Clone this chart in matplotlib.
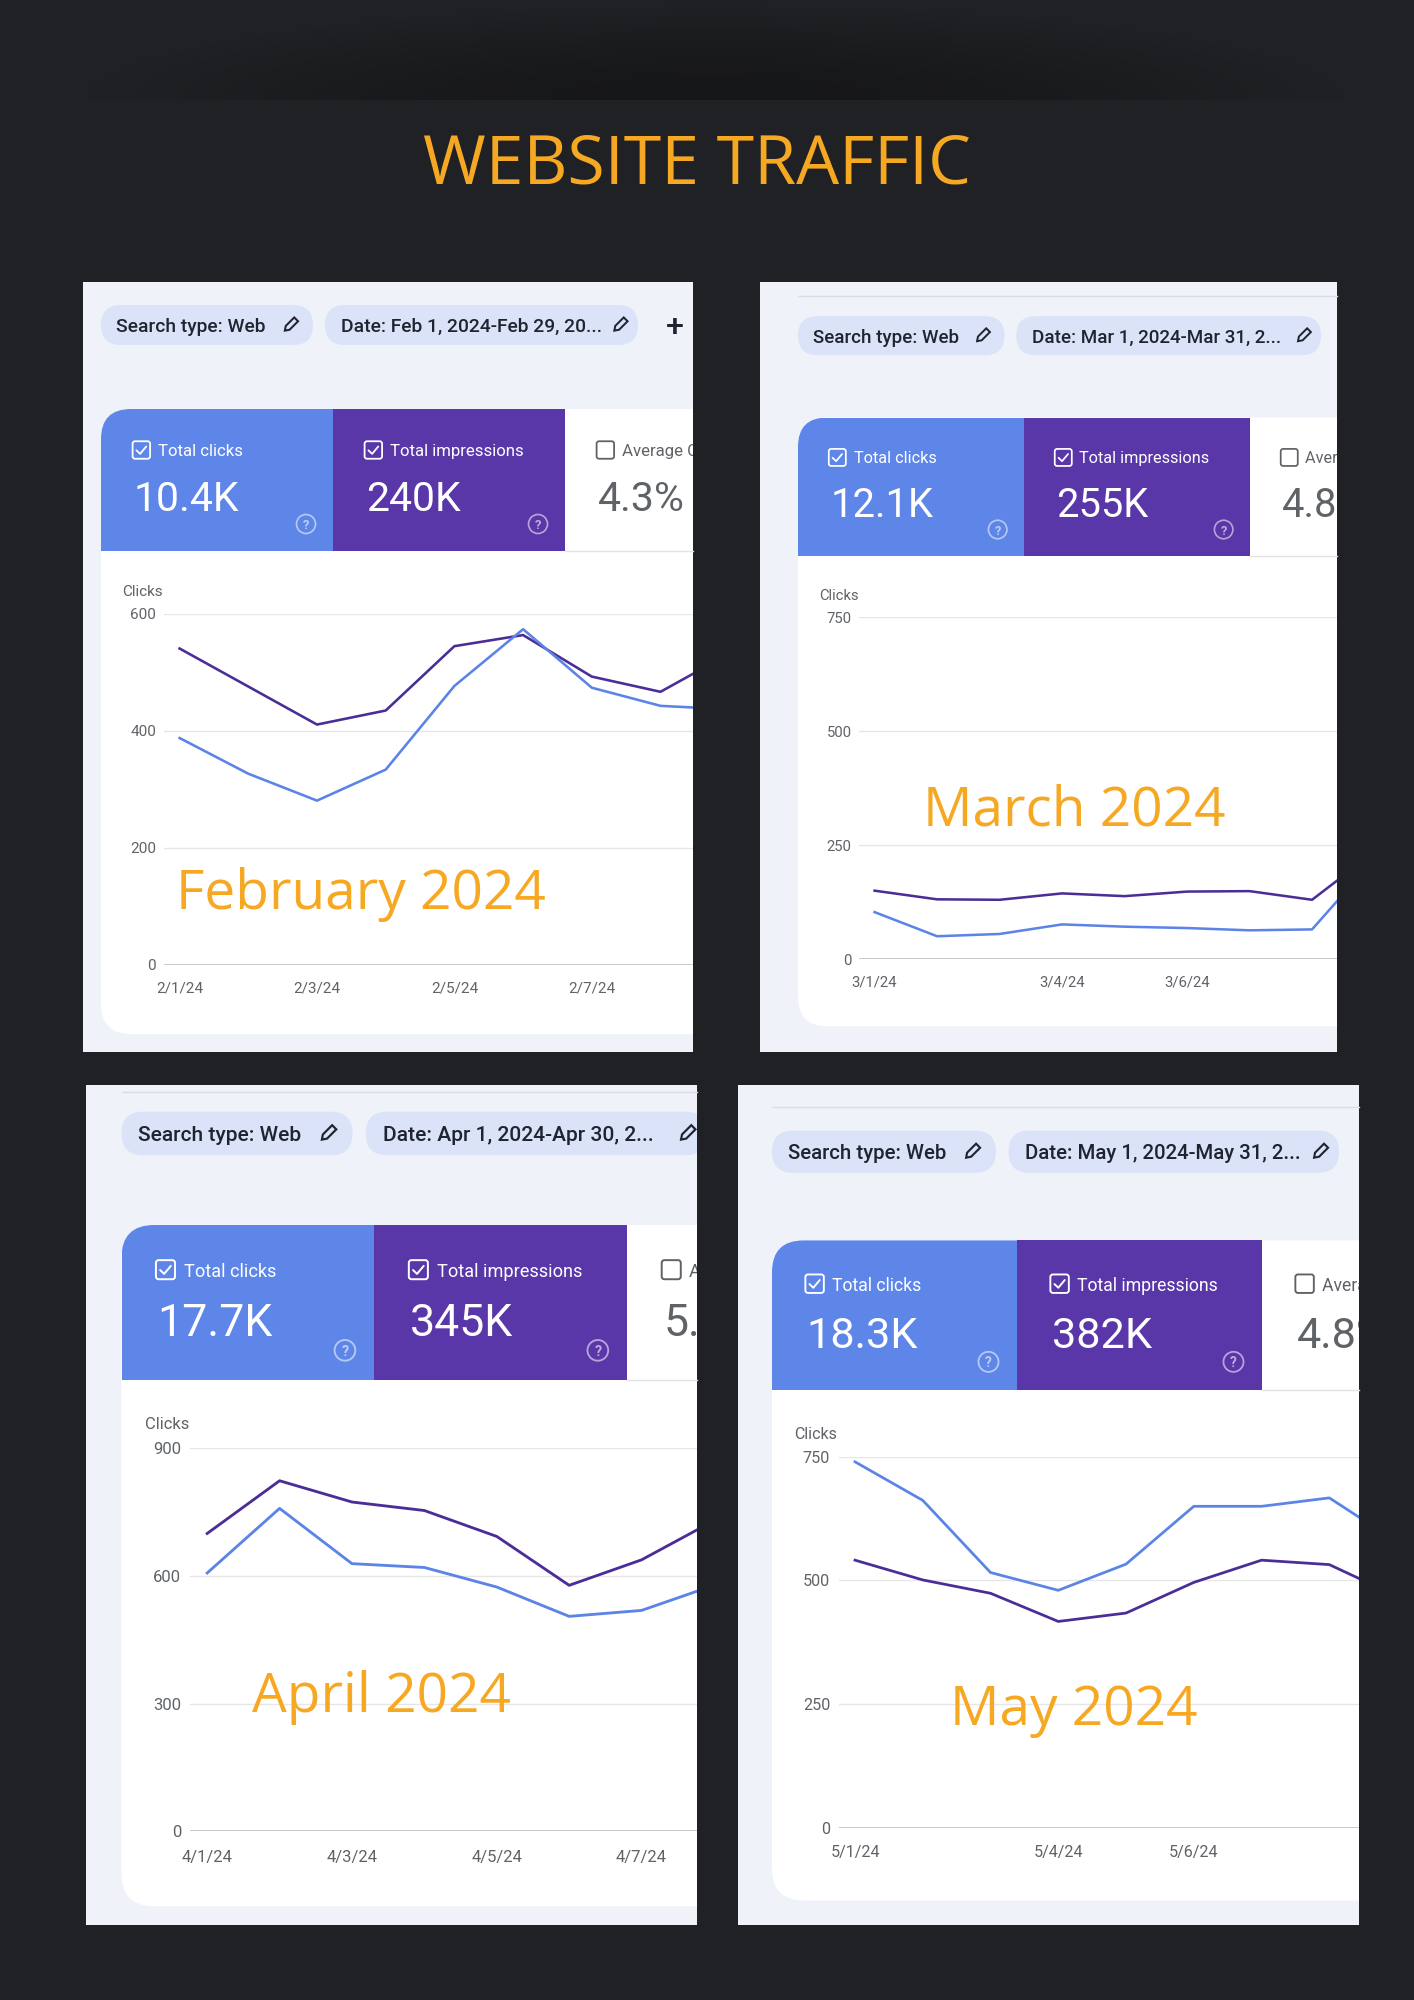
import numpy as np
import matplotlib.pyplot as plt
from matplotlib.patches import FancyBboxPatch, Rectangle, Circle, Polygon

W, H, DPI = 1414, 2000, 100

# ---- data (clicks axis units) ----
feb_days = [1, 2, 3, 4, 5, 6, 7, 8, 9]
feb_clicks = [388, 327, 281, 334, 477, 574, 474, 443, 437]
feb_impr = [541, 476, 411, 435, 545, 564, 493, 467, 532]
feb_yticks = [0, 200, 400, 600]
feb_xticks = [1, 3, 5, 7]
feb_xlabels = ["2/1/24", "2/3/24", "2/5/24", "2/7/24"]
feb_totals = ["10.4K", "240K", "4.3%"]

mar_days = [1, 2, 3, 4, 5, 6, 7, 8, 9]
mar_clicks = [103, 50, 55, 76, 71, 68, 63, 65, 220]
mar_impr = [150, 131, 130, 144, 138, 148, 149, 130, 235]
mar_yticks = [0, 250, 500, 750]
mar_xticks = [1, 4, 6]
mar_xlabels = ["3/1/24", "3/4/24", "3/6/24"]
mar_totals = ["12.1K", "255K", "4.8%"]

apr_days = [1, 2, 3, 4, 5, 6, 7, 8]
apr_clicks = [607, 759, 629, 620, 574, 505, 519, 578]
apr_impr = [700, 824, 774, 754, 693, 578, 638, 730]
apr_yticks = [0, 300, 600, 900]
apr_xticks = [1, 3, 5, 7]
apr_xlabels = ["4/1/24", "4/3/24", "4/5/24", "4/7/24"]
apr_totals = ["17.7K", "345K", "5.1%"]

may_days = [1, 2, 3, 4, 5, 6, 7, 8, 9]
may_clicks = [740, 662, 516, 480, 533, 650, 650, 667, 578]
may_impr = [541, 501, 474, 417, 434, 496, 541, 532, 468]
may_yticks = [0, 250, 500, 750]
may_xticks = [1, 4, 6]
may_xlabels = ["5/1/24", "5/4/24", "5/6/24"]
may_totals = ["18.3K", "382K", "4.8%"]

# ---- styles ----
BG = "#202124"
ORANGE = "#f7a823"
PANEL = "#eff3f9"
CHIP = "#dae3f7"
BLUE_TILE = "#5e86e9"
PURPLE_TILE = "#5a37a9"
BLUE_LINE = "#5c84e6"
PURPLE_LINE = "#4b2d98"
GRAY = "#5f6368"
INK = "#1f2430"

plt.rcParams["font.family"] = ["Roboto", "DejaVu Sans"]


def P(px):
    # pixels -> points
    return px * 72 / DPI


fig = plt.figure(figsize=(W / DPI, H / DPI), dpi=DPI, facecolor=BG)
bg = fig.add_axes([0, 0, 1, 1])
bg.axis("off")

# faint dark shadow at the top
yy, xx = np.mgrid[0:110, 0:W]
alpha = 1 - ((xx - 715) / 640.0) ** 2 - ((yy - 100) / 95.0) ** 2
alpha = np.clip(alpha, 0, 1) ** 1.3 * 0.3
alpha[yy >= 100] = 0
shadow = np.zeros((110, W, 4))
shadow[..., 3] = alpha
bg.imshow(shadow, extent=(0, W, 110, 0), aspect="auto", zorder=0)
bg.set_xlim(0, W)
bg.set_ylim(H, 0)

bg.text(697, 183, "WEBSITE TRAFFIC", ha="center", va="baseline", fontsize=P(68),
        color=ORANGE, family=["Open Sans", "DejaVu Sans"])


def clipped(artist, clip):
    artist.set_clip_path(clip)
    artist.set_clip_on(True)
    return artist


def pencil(cx, cy, s):
    pts = np.array([[0, 0], [4, -2.7], [16, -2.7], [16, 2.7], [4, 2.7]]) * s
    pts[:, 0] -= 8 * s
    c = np.cos(np.pi / 4)
    rot = np.array([[c, c], [-c, c]])  # points up-right in image coords
    xy = pts @ rot.T
    xy[:, 0] += cx
    xy[:, 1] += cy
    return Polygon(xy, closed=True, fill=False, ec=INK, lw=P(2.0 * s), zorder=4)


def checkbox(x, cy, s, color, checked, clip):
    size = 17.5 * s
    box = FancyBboxPatch((x, cy - size / 2), size, size,
                         boxstyle="round,pad=0,rounding_size=%f" % (2.5 * s),
                         fill=False, ec=color, lw=P(1.8 * s), zorder=5)
    bg.add_patch(box)
    clipped(box, clip)
    if checked:
        bg.plot([x + 0.22 * size, x + 0.43 * size, x + 0.78 * size],
                [cy + 0.02 * size, cy + 0.22 * size, cy - 0.2 * size],
                color=color, lw=P(1.8 * s), zorder=5, solid_capstyle="round")


def draw_panel(box, tx, ty, s, step, days, clicks, impr, yticks, xticks, xlabels,
               totals, date_text, month, month_xy, top_line=None, plus=False):
    x0, y0, x1, y1 = box
    bg.add_patch(Rectangle((x0, y0), x1 - x0, y1 - y0, fc=PANEL, ec="none", zorder=1))
    clip = Rectangle((x0, y0), x1 - x0, y1 - y0, transform=bg.transData)

    if top_line is not None:
        bg.plot([tx, x1], [top_line, top_line], color="#dadde2", lw=1, zorder=2)

    # filter chips
    cy = ty - 84 * s
    ch = 40 * s
    c1w, c2w = 212 * s, 313 * s
    c2l = tx + c1w + 12 * s
    for cx, cw in [(tx, c1w), (c2l, c2w)]:
        chip = FancyBboxPatch((cx, cy - ch / 2), cw, ch,
                              boxstyle="round,pad=0,rounding_size=%f" % (ch / 2),
                              fc=CHIP, ec="none", zorder=2)
        bg.add_patch(chip)
        clipped(chip, clip)
    bg.text(tx + 15.5 * s, cy, "Search type: Web", va="center_baseline",
            fontsize=P(19.3 * s), color=INK, weight="medium", zorder=4)
    t = bg.text(c2l + 16 * s, cy, date_text, va="center_baseline",
                fontsize=P(19.3 * s), color=INK, weight="medium", zorder=4)
    clipped(t, clip)
    bg.add_patch(pencil(tx + c1w - 22.5 * s, cy, s))
    clipped(bg.add_patch(pencil(c2l + c2w - 18 * s, cy, s)), clip)
    if plus:
        bg.text(c2l + c2w + 37 * s, cy, "+", ha="center", va="center_baseline",
                fontsize=P(32 * s), color=INK, weight="medium", zorder=4)

    # card with metric tiles
    tw, th, r = 232 * s, 142 * s, 30 * s
    card_h = 625 * s
    card = FancyBboxPatch((tx, ty), x1 + 80 - tx, card_h,
                          boxstyle="round,pad=0,rounding_size=%f" % r,
                          fc="white", ec="none", zorder=2)
    bg.add_patch(card)
    clipped(card, clip)
    blue = FancyBboxPatch((tx, ty), x1 + 80 - tx, card_h,
                          boxstyle="round,pad=0,rounding_size=%f" % r,
                          fc=BLUE_TILE, ec="none", zorder=3)
    bg.add_patch(blue)
    clipped(blue, Rectangle((tx, ty), tw, th, transform=bg.transData))
    bg.add_patch(Rectangle((tx + tw, ty), tw, th, fc=PURPLE_TILE, ec="none", zorder=3))
    bg.plot([tx + 2 * tw, x1], [ty + th, ty + th], color="#e3e3e3", lw=1, zorder=3)

    tiles = [("Total clicks", totals[0], "white", True),
             ("Total impressions", totals[1], "white", True),
             ("Average CTR", totals[2], GRAY, False)]
    for i, (label, value, col, checked) in enumerate(tiles):
        lx = tx + i * tw
        checkbox(lx + 31.6 * s, ty + 41 * s, s, col, checked, clip)
        t1 = bg.text(lx + 57 * s, ty + 41 * s, label, va="center_baseline",
                     fontsize=P(16.7 * s), color=col, zorder=5)
        t2 = bg.text(lx + 33 * s, ty + 102 * s, value, va="baseline",
                     fontsize=P(41 * s), color=col, zorder=5)
        clipped(t1, clip)
        clipped(t2, clip)
        if checked:
            qx, qy = lx + tw - 27 * s, ty + 115 * s
            bg.add_patch(Circle((qx, qy), 9.5 * s, fill=False, ec="white",
                                alpha=0.55, lw=P(1.7 * s), zorder=5))
            bg.text(qx, qy, "?", ha="center", va="center_baseline", color="white",
                    alpha=0.6, fontsize=P(13 * s), weight="bold", zorder=5)

    # line chart
    left, right = tx + 63 * s, x1
    top, bottom = ty + 205 * s, ty + 556 * s
    day1 = tx + 78.6 * s
    bg.text(tx + 21.3 * s, top - 23 * s, "Clicks", va="center_baseline",
            fontsize=P(15.2 * s), color=GRAY, zorder=5)
    ax = fig.add_axes([left / W, 1 - bottom / H, (right - left) / W, (bottom - top) / H])
    ax.patch.set_visible(False)
    for sp in ax.spines.values():
        sp.set_visible(False)
    ax.set_xlim(1 - (day1 - left) / step, 1 + (right - day1) / step)
    ax.set_ylim(0, yticks[-1])
    ax.set_yticks(yticks)
    ax.set_yticklabels([str(v) for v in yticks])
    ax.set_xticks(xticks)
    ax.set_xticklabels(xlabels)
    ax.tick_params(length=0, labelsize=P(15.3 * s), labelcolor=GRAY)
    ax.tick_params(axis="y", pad=P(8 * s))
    ax.tick_params(axis="x", pad=P(17 * s))
    ax.grid(axis="y", color="#e6e6e6", lw=1)
    ax.axhline(0, color="#c7c7c7", lw=1.3)
    ax.plot(days, impr, color=PURPLE_LINE, lw=P(2.6 * s))
    ax.plot(days, clicks, color=BLUE_LINE, lw=P(2.6 * s))

    fig.text(month_xy[0], month_xy[1], month, transform=bg.transData, ha="center",
             va="baseline", fontsize=P(55), color=ORANGE,
             family=["Open Sans", "DejaVu Sans"], zorder=6)


draw_panel((83, 282, 693, 1052), 101, 409, 1.0, 68.7, feb_days, feb_clicks, feb_impr,
           feb_yticks, feb_xticks, feb_xlabels, feb_totals,
           "Date: Feb 1, 2024-Feb 29, 20...", "February 2024", (361, 909), plus=True)
draw_panel((760, 282, 1337, 1052), 798, 417.5, 0.974, 62.5, mar_days, mar_clicks, mar_impr,
           mar_yticks, mar_xticks, mar_xlabels, mar_totals,
           "Date: Mar 1, 2024-Mar 31, 2...", "March 2024", (1074, 826), top_line=296)
draw_panel((86, 1085, 697, 1925), 121.5, 1225, 1.09, 72.4, apr_days, apr_clicks, apr_impr,
           apr_yticks, apr_xticks, apr_xlabels, apr_totals,
           "Date: Apr 1, 2024-Apr 30, 2...", "April 2024", (381, 1712), top_line=1092)
draw_panel((738, 1085, 1359, 1925), 772, 1240.4, 1.056, 67.76, may_days, may_clicks, may_impr,
           may_yticks, may_xticks, may_xlabels, may_totals,
           "Date: May 1, 2024-May 31, 2...", "May 2024", (1074, 1725), top_line=1107)

fig.savefig("out.png", dpi=DPI, facecolor=BG)
